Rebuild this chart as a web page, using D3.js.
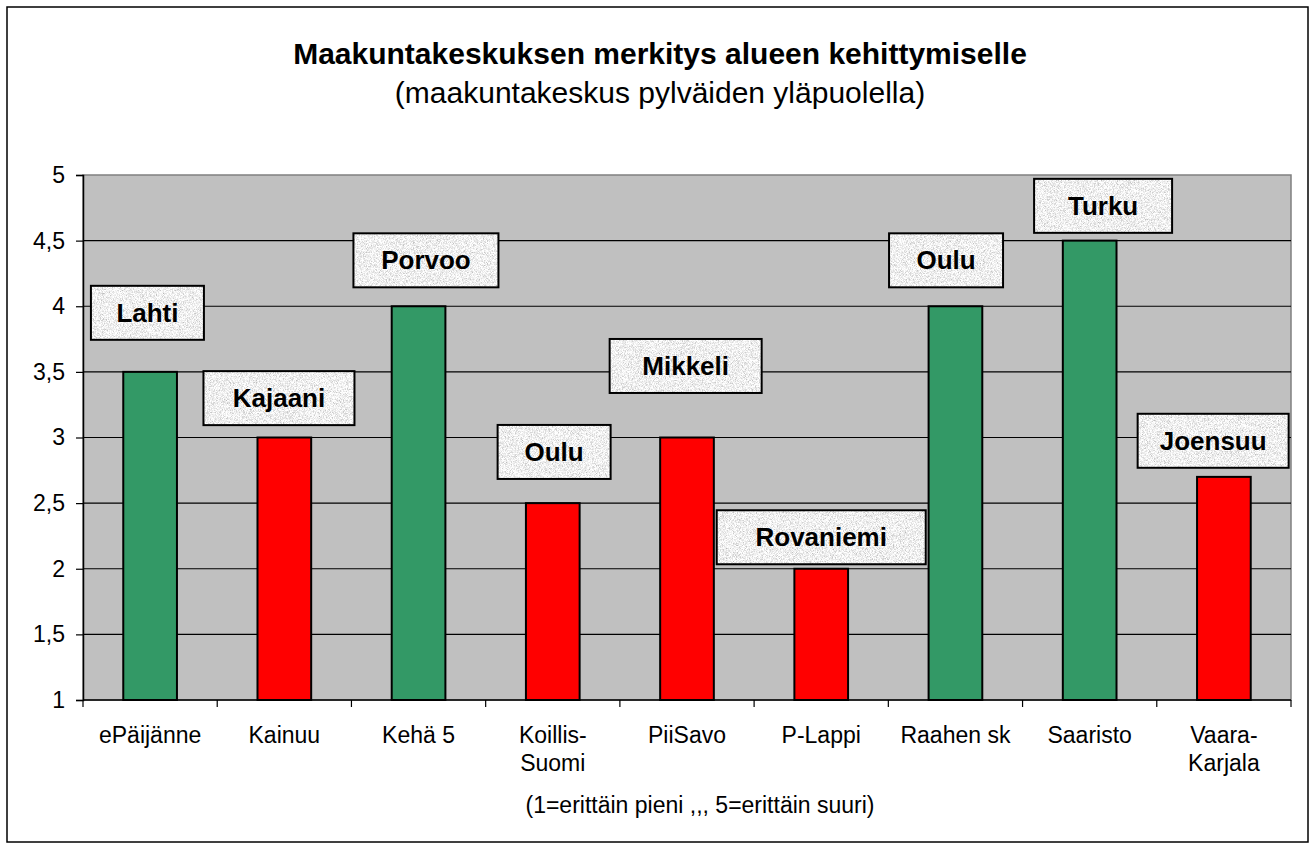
<!DOCTYPE html>
<html>
<head>
<meta charset="utf-8">
<script src="https://cdn.jsdelivr.net/npm/d3@7"></script>
<style>
  body { margin: 0; background: #fff; }
  svg { display: block; font-family: Arial, "Liberation Sans", sans-serif; }
</style>
</head>
<body>
<svg id="chart" width="1315" height="849"></svg>
<script>
const categories = ["ePäijänne", "Kainuu", "Kehä 5", "Koillis-Suomi", "PiiSavo", "P-Lappi", "Raahen sk", "Saaristo", "Vaara-Karjala"];
const values = [3.5, 3, 4, 2.5, 3, 2, 4, 4.5, 2.7];
const groups = ["green", "red", "green", "red", "red", "red", "green", "green", "red"];
const centres = ["Lahti", "Kajaani", "Porvoo", "Oulu", "Mikkeli", "Rovaniemi", "Oulu", "Turku", "Joensuu"];
const yTicks = [1, 1.5, 2, 2.5, 3, 3.5, 4, 4.5, 5];

// where the hand placed text boxes sit (value units / band units / px width)
const labelAt = [3.95, 3.3, 4.35, 2.89, 3.545, 2.24, 4.35, 4.765, 2.975];
const labelShift = [-0.02, -0.04, 0.055, 0.01, -0.01, 0, -0.07, 0.1, -0.08];
const labelWidth = [113, 151, 145, 113, 152, 209, 114, 138, 151];

const title = "Maakuntakeskuksen merkitys alueen kehittymiselle";
const subtitle = "(maakuntakeskus pylväiden yläpuolella)";
const xTitle = "(1=erittäin pieni ,,, 5=erittäin suuri)";

const colors = { green: "#339966", red: "#ff0000" };
const margin = { top: 175, right: 24, bottom: 149, left: 83 };
const width = 1315, height = 849;

const svg = d3.select("#chart");
const fi = d3.formatLocale({ decimal: ",", thousands: " ", grouping: [3], currency: ["", "€"] });
const fmt = fi.format(".2~f");

const x = d3.scaleBand()
  .domain(categories)
  .range([margin.left, width - margin.right])
  .padding(0);

const y = d3.scaleLinear()
  .domain([1, 5])
  .range([height - margin.bottom, margin.top]);

// grain texture for the label boxes
const defs = svg.append("defs");
const f = defs.append("filter").attr("id", "grain").attr("x", 0).attr("y", 0).attr("width", 1).attr("height", 1);
f.append("feTurbulence").attr("type", "fractalNoise").attr("baseFrequency", 1.3).attr("numOctaves", 2).attr("seed", 3).attr("result", "n");
f.append("feColorMatrix").attr("in", "n").attr("type", "matrix")
  .attr("values", "1.1 0 0 0 0.32  1.1 0 0 0 0.32  1.1 0 0 0 0.32  0 0 0 0 1").attr("result", "g");
f.append("feComposite").attr("in", "g").attr("in2", "SourceGraphic").attr("operator", "in");

// chart area frame
svg.append("rect")
  .attr("x", 7).attr("y", 7).attr("width", 1301).attr("height", 835)
  .attr("fill", "#fff").attr("stroke", "#000").attr("stroke-width", 1.5);

svg.append("text")
  .attr("x", 660).attr("y", 64)
  .attr("text-anchor", "middle")
  .attr("font-size", 30).attr("font-weight", "bold")
  .text(title);

svg.append("text")
  .attr("x", 660).attr("y", 103)
  .attr("text-anchor", "middle")
  .attr("font-size", 30)
  .text(subtitle);

// plot area
svg.append("rect")
  .attr("x", margin.left).attr("y", margin.top)
  .attr("width", width - margin.right - margin.left)
  .attr("height", height - margin.bottom - margin.top)
  .attr("fill", "#c0c0c0").attr("stroke", "#808080").attr("stroke-width", 1.5);

svg.append("g")
  .selectAll("line")
  .data(yTicks.filter(d => d > 1 && d < 5))
  .join("line")
  .attr("x1", margin.left).attr("x2", width - margin.right)
  .attr("y1", d => y(d)).attr("y2", d => y(d))
  .attr("stroke", "#000").attr("stroke-width", 1.2);

// bars
const bw = x.bandwidth() * 0.4;
svg.append("g")
  .selectAll("rect")
  .data(categories)
  .join("rect")
  .attr("x", d => x(d) + (x.bandwidth() - bw) / 2)
  .attr("y", (d, i) => y(values[i]))
  .attr("width", bw)
  .attr("height", (d, i) => y(1) - y(values[i]))
  .attr("fill", (d, i) => colors[groups[i]])
  .attr("stroke", "#000").attr("stroke-width", 2);

// y axis
const yAxis = svg.append("g")
  .attr("transform", `translate(${margin.left},0)`)
  .call(d3.axisLeft(y).tickValues(yTicks).tickFormat(fmt).tickSize(7).tickPadding(11));
yAxis.selectAll("text").attr("font-size", 23).attr("fill", "#000").attr("font-family", null);
yAxis.selectAll("line").attr("stroke", "#000").attr("stroke-width", 1.2);
yAxis.select(".domain").attr("stroke", "#000").attr("stroke-width", 1.5);

// x axis: ticks between categories
const xAxis = svg.append("g").attr("transform", `translate(0,${y(1)})`);
xAxis.append("line")
  .attr("x1", margin.left).attr("x2", width - margin.right)
  .attr("stroke", "#000").attr("stroke-width", 1.5);
xAxis.selectAll(".tk")
  .data(categories.concat([null]))
  .join("line")
  .attr("class", "tk")
  .attr("x1", (d, i) => margin.left + i * x.step())
  .attr("x2", (d, i) => margin.left + i * x.step())
  .attr("y2", 7)
  .attr("stroke", "#000").attr("stroke-width", 1.2);

// labels wrap after the hyphen only when they do not fit the band
xAxis.selectAll(".lbl")
  .data(categories)
  .join("text")
  .attr("class", "lbl")
  .attr("text-anchor", "middle")
  .attr("font-size", 23)
  .attr("transform", d => `translate(${x(d) + x.bandwidth() / 2},43)`)
  .each(function (d) {
    const t = d3.select(this).text(d);
    let parts = [d];
    if (this.getComputedTextLength() > x.bandwidth() * 0.92 && d.includes("-")) {
      const k = d.indexOf("-") + 1;
      parts = [d.slice(0, k), d.slice(k)];
    }
    t.text(null).selectAll("tspan")
      .data(parts)
      .join("tspan")
      .attr("x", 0)
      .attr("dy", (p, j) => j === 0 ? 0 : 28)
      .text(p => p);
  });

svg.append("text")
  .attr("x", 700)
  .attr("y", 813)
  .attr("text-anchor", "middle")
  .attr("font-size", 23)
  .text(xTitle);

// centre name boxes
const boxH = 54;
const lab = svg.append("g")
  .selectAll("g")
  .data(centres)
  .join("g")
  .attr("transform", (d, i) => `translate(${x(categories[i]) + x.bandwidth() * (0.5 + labelShift[i])},${y(labelAt[i])})`);

lab.append("rect")
  .attr("x", (d, i) => -labelWidth[i] / 2).attr("y", -boxH / 2)
  .attr("width", (d, i) => labelWidth[i]).attr("height", boxH)
  .attr("fill", "#fff")
  .attr("filter", "url(#grain)");

lab.append("rect")
  .attr("x", (d, i) => -labelWidth[i] / 2).attr("y", -boxH / 2)
  .attr("width", (d, i) => labelWidth[i]).attr("height", boxH)
  .attr("fill", "none")
  .attr("stroke", "#000").attr("stroke-width", 2);

lab.append("text")
  .attr("text-anchor", "middle")
  .attr("y", 9)
  .attr("font-size", 26).attr("font-weight", "bold")
  .text(d => d);
</script>
</body>
</html>
